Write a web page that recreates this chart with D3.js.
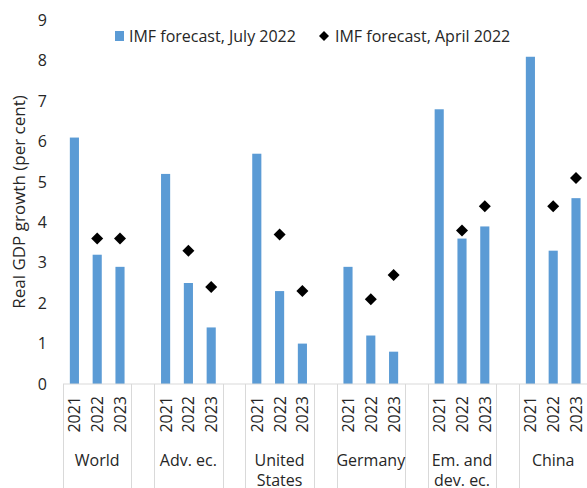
<!DOCTYPE html>
<html>
<head>
<meta charset="utf-8">
<script src="https://cdn.jsdelivr.net/npm/d3@7"></script>
<style>
  body { margin: 0; background: #fff; }
  text { font-family: "Open Sans", sans-serif; fill: #262626; }
</style>
</head>
<body>
<div id="chart"></div>
<script>
// Data
var groups = ["World", "Adv. ec.", "United States", "Germany", "Em. and dev. ec.", "China"];
var groupLines = [["World"], ["Adv. ec."], ["United", "States"], ["Germany"], ["Em. and", "dev. ec."], ["China"]];
var years = ["2021", "2022", "2023"];
var julyForecast = [
    [6.1, 3.2, 2.9],
    [5.2, 2.5, 1.4],
    [5.7, 2.3, 1.0],
    [2.9, 1.2, 0.8],
    [6.8, 3.6, 3.9],
    [8.1, 3.3, 4.6]
];
var aprilForecast = [
    [null, 3.6, 3.6],
    [null, 3.3, 2.4],
    [null, 3.7, 2.3],
    [null, 2.1, 2.7],
    [null, 3.8, 4.4],
    [null, 4.4, 5.1]
];
var yTicks = [0, 1, 2, 3, 4, 5, 6, 7, 8, 9];

var svgWidth = 587;
var svgHeight = 488;

var margin = { top: 20.4, right: 0, bottom: 104, left: 63 };
var plotRight = 587.4;
var plotBottom = 384;

var svg = d3.select("#chart")
    .append("svg")
    .attr("width", svgWidth)
    .attr("height", svgHeight);

// slots: 3 years per group with an empty slot between groups
var slots = [];
groups.forEach(function(g, gi) {
    years.forEach(function(y, yi) {
        slots.push({ key: g + "|" + y, group: gi, year: yi });
    });
    if (gi < groups.length - 1) slots.push({ key: "gap" + gi, group: -1 });
});

var x = d3.scaleBand()
    .domain(slots.map(d => d.key))
    .range([margin.left, plotRight])
    .paddingInner(0)
    .paddingOuter(0);

var y = d3.scaleLinear()
    .domain([0, 9])
    .range([plotBottom, margin.top]);

// bars
var barData = [];
var dotData = [];
groups.forEach(function(g, gi) {
    years.forEach(function(yr, yi) {
        barData.push({ key: g + "|" + yr, value: julyForecast[gi][yi] });
        if (aprilForecast[gi][yi] != null) {
            dotData.push({ key: g + "|" + yr, value: aprilForecast[gi][yi] });
        }
    });
});

var barW = x.bandwidth() * 0.4;

svg.append("g").selectAll("rect")
    .data(barData)
    .enter()
    .append("rect")
    .attr("x", d => x(d.key) + (x.bandwidth() - barW) / 2)
    .attr("y", d => y(d.value))
    .attr("width", barW)
    .attr("height", d => y(0) - y(d.value))
    .attr("fill", "#5B9BD5");

// diamonds
var diamond = d3.symbol().type(d3.symbolSquare).size(72);
svg.append("g").selectAll("path")
    .data(dotData)
    .enter()
    .append("path")
    .attr("d", diamond)
    .attr("transform", d => `translate(${x(d.key) + x.bandwidth() / 2}, ${y(d.value)}) rotate(45)`)
    .attr("fill", "#000");

// y axis labels (no line)
var leftAxis = d3.axisLeft(y).tickValues(yTicks).tickSize(0).tickPadding(16);
var yAxis = svg.append("g")
    .attr("transform", `translate(${margin.left}, 0)`)
    .call(leftAxis);
yAxis.select(".domain").remove();
yAxis.selectAll("text")
    .style("font-size", "16px")
    .style("font-family", "'Open Sans', sans-serif")
    .attr("fill", "#262626");

// x axis line
svg.append("line")
    .attr("x1", margin.left)
    .attr("x2", plotRight)
    .attr("y1", plotBottom)
    .attr("y2", plotBottom)
    .attr("stroke", "#D9D9D9")
    .attr("stroke-width", 1);

// group separators
var sepX = [];
slots.forEach(function(s, i) {
    if (s.group < 0) {
        sepX.push(x(s.key));
        sepX.push(x(s.key) + x.bandwidth());
    }
});
sepX.unshift(margin.left);
svg.append("g").selectAll("line")
    .data(sepX)
    .enter()
    .append("line")
    .attr("x1", d => Math.round(d) + 0.5)
    .attr("x2", d => Math.round(d) + 0.5)
    .attr("y1", plotBottom)
    .attr("y2", svgHeight)
    .attr("stroke", "#D9D9D9")
    .attr("stroke-width", 1);

// year labels (rotated)
svg.append("g").selectAll("text")
    .data(barData)
    .enter()
    .append("text")
    .attr("transform", d => `translate(${x(d.key) + x.bandwidth() / 2 + 6}, 396) rotate(-90)`)
    .attr("text-anchor", "end")
    .style("font-size", "16px")
    .text(d => d.key.split("|")[1]);

// group labels
var groupG = svg.append("g");
groups.forEach(function(g, gi) {
    var cx = (x(g + "|2021") + x(g + "|2023") + x.bandwidth()) / 2;
    var t = groupG.append("text")
        .attr("x", cx)
        .attr("y", 466)
        .attr("text-anchor", "middle")
        .style("font-size", "16px");
    groupLines[gi].forEach(function(line, li) {
        t.append("tspan")
            .attr("x", cx)
            .attr("dy", li === 0 ? 0 : 20)
            .text(line);
    });
});

// y axis title
svg.append("text")
    .attr("transform", "translate(25, 202) rotate(-90)")
    .attr("text-anchor", "middle")
    .style("font-size", "17px")
    .text("Real GDP growth (per cent)");

// legend
var legend = svg.append("g");
legend.append("rect")
    .attr("x", 115)
    .attr("y", 31)
    .attr("width", 9)
    .attr("height", 10)
    .attr("fill", "#5B9BD5");
legend.append("text")
    .attr("x", 129)
    .attr("y", 42)
    .style("font-size", "16px")
    .text("IMF forecast, July 2022");
legend.append("path")
    .attr("d", d3.symbol().type(d3.symbolSquare).size(50))
    .attr("transform", "translate(324, 36) rotate(45)")
    .attr("fill", "#000");
legend.append("text")
    .attr("x", 335)
    .attr("y", 42)
    .style("font-size", "16px")
    .text("IMF forecast, April 2022");
</script>
</body>
</html>
